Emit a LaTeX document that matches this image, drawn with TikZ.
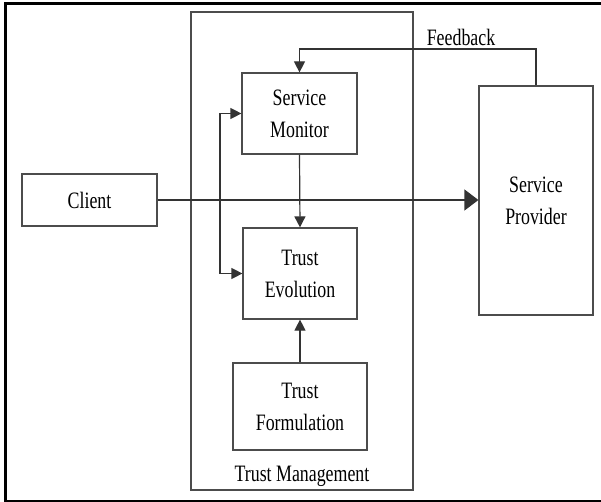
\documentclass[tikz,border=0pt]{standalone}
\usepackage{fontspec}
\newfontfamily\diafont[FakeStretch=0.76]{Liberation Serif}
\usetikzlibrary{arrows.meta,calc}
\begin{document}
\begin{tikzpicture}[x=1pt,y=-1pt,
   box/.style={draw=black!70,line width=1.2pt,inner sep=0pt,align=center,
      font=\diafont\fontsize{23.5}{32}\selectfont},
   lbl/.style={inner sep=0pt,font=\diafont\fontsize{23.5}{32}\selectfont},
   link/.style={draw=black!80,line width=1.2pt,-{Triangle[length=11pt,width=11pt]}},
   biglink/.style={draw=black!80,line width=1.2pt,-{Triangle[length=14pt,width=21pt]}}]
   \useasboundingbox (0,0) rectangle (601,502);
   %frame
   \draw[line width=3pt] (601,4) -- (5,4) -- (5,501) -- (601,501);
   %Trust Management
   \node[box,minimum width=222pt,minimum height=478pt] (tm) at (302,251) {};
   \node[lbl] (tmlabel) at (302,476) {Trust Management};
   %boxes
   \node[box,minimum width=135pt,minimum height=52pt] (client) at (89.5,200) {Client};
   \node[box,minimum width=115pt,minimum height=81pt] (monitor) at (299.5,113.5) {Service\\Monitor};
   \node[box,minimum width=114pt,minimum height=91pt] (evolution) at (300,273.5) {Trust\\Evolution};
   \node[box,minimum width=134pt,minimum height=87pt] (formulation) at (300,406.5) {Trust\\Formulation};
   \node[box,minimum width=114pt,minimum height=229pt] (provider) at (536,200.5) {Service\\Provider};
   %feedback
   \coordinate (fb) at (536,49);
   \node[lbl] (fblabel) at (461,37) {Feedback};
   \draw[link] (provider.north) -- (fb) -| (monitor.north);
   %client to provider
   \draw[biglink] (client.east) -- (client.east -| provider.west);
   %inside
   \draw[link] (monitor.south) -- (evolution.north);
   \draw[link] (formulation.north) -- (evolution.south);
   \coordinate (loop) at (220,113.5);
   \draw[link,{Triangle[length=11pt,width=11pt]}-{Triangle[length=11pt,width=11pt]}]
      (monitor.west) -- (loop) |- (evolution.west);
\end{tikzpicture}
\end{document}
